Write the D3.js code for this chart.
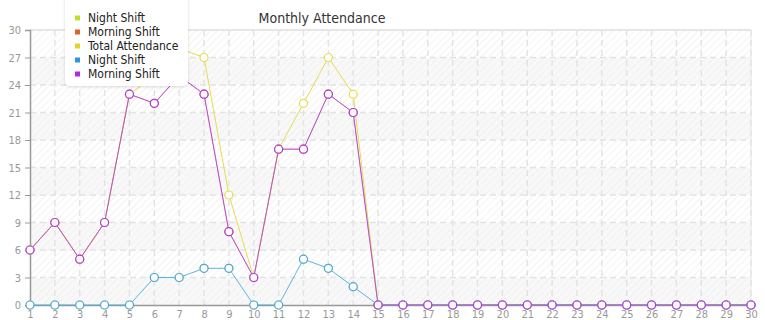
<!DOCTYPE html>
<html><head><meta charset="utf-8">
<script src="https://cdn.jsdelivr.net/npm/d3@7"></script>
<style>html,body{margin:0;padding:0;background:#fff;overflow:hidden}</style>
</head><body><svg id="c" width="765" height="320"></svg>
<script>
const days = d3.range(1, 31).map(String);
const nightShift = [0,0,0,0,0,3,3,4,4,0,0,5,4,2,0,0,0,0,0,0,0,0,0,0,0,0,0,0,0,0];
const morningShift = [6,9,5,9,23,22,25,23,8,3,17,17,23,21,0,0,0,0,0,0,0,0,0,0,0,0,0,0,0,0];
const totalAttendance = [6,9,5,9,23,25,28,27,12,3,17,22,27,23,0,0,0,0,0,0,0,0,0,0,0,0,0,0,0,0];
const yTicks = [0,3,6,9,12,15,18,21,24,27,30];
const seriesNames = ["Night Shift","Morning Shift","Total Attendance","Night Shift","Morning Shift"];
const seriesValues = [nightShift, morningShift, totalAttendance, nightShift, morningShift];
const colors = ["#bddf2a","#e0622a","#e0d52a","#2a96e0","#b52ae0"];
const lineColors = ["#bddf2a","#e0622a","#e6dc50","#4aa6e8","#b038e0"];
const lineOpacity = [0.1, 0.45, 1, 0.85, 0.85];
const title = "Monthly Attendance";
const FONT = "DejaVu Sans Condensed, DejaVu Sans, sans-serif";

const svg = d3.select("#c");
const L = 30, R = 751, T = 30, B = 305;
const x = d3.scalePoint().domain(days).range([L, R]);
const y = d3.scaleLinear().domain([0, 30]).range([B, T]);

const defs = svg.append("defs");
const pat = defs.append("pattern").attr("id","hatch").attr("patternUnits","userSpaceOnUse")
  .attr("width",5).attr("height",5).attr("patternTransform","rotate(45)");
pat.append("line").attr("x1",0).attr("y1",0).attr("x2",0).attr("y2",5)
  .attr("stroke","#efefef").attr("stroke-width",1.5);
const sh = defs.append("filter").attr("id","sh").attr("x","-20%").attr("y","-20%").attr("width","140%").attr("height","150%");
sh.append("feDropShadow").attr("dx",0).attr("dy",1).attr("stdDeviation",1.5).attr("flood-color","#000").attr("flood-opacity",0.15);

// bands
const bands = yTicks.slice(0,-1);
svg.selectAll(".band").data(bands).enter().append("rect")
  .attr("x", L).attr("width", R - L)
  .attr("y", d => y(d + 3)).attr("height", d => y(d) - y(d + 3))
  .attr("fill", (d,i) => i % 2 === 0 ? "#f8f8f8" : "#fff");
svg.append("rect").attr("x",L).attr("y",T).attr("width",R-L).attr("height",B-T).attr("fill","url(#hatch)");

// grid
svg.append("g").selectAll("line").data(yTicks.slice(1)).enter().append("line")
  .attr("x1",L).attr("x2",R).attr("y1",d=>y(d)).attr("y2",d=>y(d))
  .attr("stroke","#e3e3e3").attr("stroke-width",1.5).attr("stroke-dasharray","6,4");
svg.append("g").selectAll("line").data(days.slice(1)).enter().append("line")
  .attr("x1",d=>x(d)).attr("x2",d=>x(d)).attr("y1",T).attr("y2",B)
  .attr("stroke","#e3e3e3").attr("stroke-width",1.5).attr("stroke-dasharray","6,4");
svg.append("line").attr("x1",L).attr("x2",R).attr("y1",T).attr("y2",T).attr("stroke","#e6e6e6").attr("stroke-width",2);
svg.append("line").attr("x1",R).attr("x2",R).attr("y1",T).attr("y2",B).attr("stroke","#e6e6e6").attr("stroke-width",1);

// axes
const yAxis = svg.append("g").attr("transform",`translate(${L},0)`)
  .call(d3.axisLeft(y).tickValues(yTicks).tickSize(5).tickPadding(4));
const xAxis = svg.append("g").attr("transform",`translate(0,${B})`)
  .call(d3.axisBottom(x).tickSize(0).tickPadding(5));
[yAxis, xAxis].forEach(g => {
  g.select(".domain").attr("stroke","#999").attr("stroke-width",1.5);
  g.selectAll(".tick line").attr("stroke","#999");
  g.selectAll("text").attr("fill","#999").attr("font-family",FONT).attr("font-size",11);
});

// lines
const line = d3.line().x((d,i)=>x(days[i])).y(d=>y(d));
seriesValues.forEach((vals, k) => {
  const g = svg.append("g");
  g.append("path").attr("d", line(vals)).attr("fill","none").attr("stroke",lineColors[k])
    .attr("stroke-width",1).attr("stroke-opacity",lineOpacity[k]);
  g.selectAll("circle").data(vals).enter().append("circle")
    .attr("cx",(d,i)=>x(days[i])).attr("cy",d=>y(d)).attr("r",4)
    .attr("fill","#fff").attr("stroke",lineColors[k]).attr("stroke-width",1.2);
});

// title
svg.append("text").attr("x",322).attr("y",23).attr("text-anchor","middle")
  .attr("font-family",FONT).attr("font-size",14).attr("fill","#333").text(title);

// legend
const lg = svg.append("g");
lg.append("rect").attr("x",65).attr("y",-6).attr("width",123).attr("height",92).attr("rx",5)
  .attr("fill","#fff").attr("filter","url(#sh)");
seriesNames.forEach((n,i) => {
  const cy = 18 + i*14;
  lg.append("rect").attr("x",75).attr("y",cy-2.5).attr("width",5).attr("height",5).attr("fill",colors[i]);
  lg.append("text").attr("x",88).attr("y",cy+3.5).attr("font-family",FONT)
    .attr("font-size",12).attr("fill","#222").text(n);
});
</script></body></html>
